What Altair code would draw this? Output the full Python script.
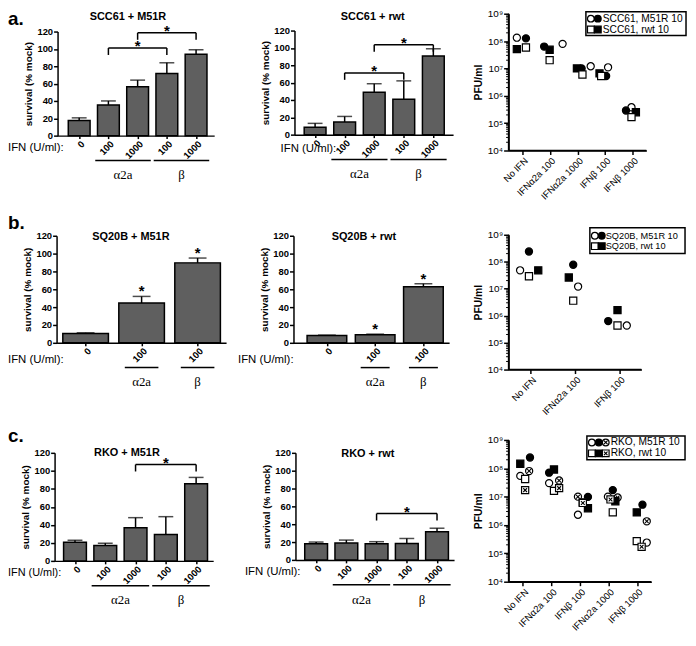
import altair as alt
import pandas as pd

SANS = "Liberation Sans"
SERIF = "Liberation Serif"
BAR_FILL = "#5f5f5f"
OFF = 8          # page margin: chart coordinate = reference pixel - OFF
W, H = 686, 626  # whole drawing area (autosize none)

# ------------------------------------------------------------------ data
bar5_labels = ["0", "100", "1000", "100", "1000"]
bar3_labels = ["0", "100", "100"]
group_names = ["α2a", "β"]
group5_from = [1, 3]
group5_to = [2, 4]
group3_from = [1, 2]
group3_to = [1, 2]

# a. SCC61
a1_values = [17.5, 35.4, 56.4, 71.6, 93.7]
a1_errors = [3.0, 4.6, 7.6, 12.4, 5.3]
a1_br_from, a1_br_to, a1_br_y = [1, 2], [3, 4], [101.0, 118.5]

a2_values = [8.4, 14.5, 48.8, 40.8, 90.7]
a2_errors = [4.6, 6.5, 9.9, 21.2, 8.3]
a2_br_from, a2_br_to, a2_br_y = [1, 2], [3, 4], [71.2, 103.6]

# b. SQ20B
b1_values = [10.4, 44.6, 89.6]
b1_errors = [0.8, 7.4, 5.4]
b1_stars = [1, 2]

b2_values = [8.2, 8.9, 62.8]
b2_errors = [0.4, 0.8, 3.4]
b2_stars = [1, 2]

# c. RKO
c1_values = [20.7, 17.0, 36.9, 29.2, 85.7]
c1_errors = [2.2, 2.6, 11.1, 19.9, 7.0]
c1_br_from, c1_br_to, c1_br_y = [2], [4], [107.0]

c2_values = [18.1, 18.9, 18.1, 18.5, 31.5]
c2_errors = [1.9, 3.3, 2.3, 5.5, 4.0]
c2_br_from, c2_br_to, c2_br_y = [2], [4], [51.9]

# titers (PFU/ml) and horizontal scatter (fraction of category step)
a3_cats = ["No IFN", "IFNα2a 100", "IFNα2a 1000", "IFNβ 100", "IFNβ 1000"]
a3_m51r_open = [1.33e8, 7.9e7, 1.2e7, 1.1e7, 3.8e5]
a3_m51r_filled = [1.26e8, 6.3e7, 1.0e7, 5.3e6, 2.9e5]
a3_rwt_open = [5.8e7, 2.0e7, 6.0e6, 5.3e6, 1.66e5]
a3_rwt_filled = [5.1e7, 4.8e7, 1.0e7, 6.6e6, 2.5e5]
a3_jit_m51r_open = [-0.20, 0.46, 0.48, 0.11, -0.04]
a3_jit_m51r_filled = [0.13, -0.21, 0.15, 0.04, -0.24]
a3_jit_rwt_open = [0.13, -0.01, 0.18, -0.14, -0.04]
a3_jit_rwt_filled = [-0.20, -0.01, -0.02, -0.20, 0.12]

b3_cats = ["No IFN", "IFNα2a 100", "IFNβ 100"]
b3_m51r_open = [4.8e7, 1.2e7, 4.3e5]
b3_m51r_filled = [2.4e8, 7.7e7, 6.3e5]
b3_rwt_open = [2.9e7, 3.6e6, 4.3e5]
b3_rwt_filled = [4.8e7, 2.6e7, 1.6e6]
b3_jit_m51r_open = [-0.24, 0.07, 0.17]
b3_jit_m51r_filled = [-0.04, -0.04, -0.25]
b3_jit_rwt_open = [-0.04, -0.04, -0.04]
b3_jit_rwt_filled = [0.17, -0.14, -0.04]

c3_cats = ["No IFN", "IFNα2a 100", "IFNβ 100", "IFNα2a 1000", "IFNβ 1000"]
c3_m51r_open = [5.4e7, 3.0e7, 2.3e6, 1.0e7, 2.4e5]
c3_m51r_filled = [2.4e8, 7.0e7, 9.8e6, 1.7e7, 5.2e6]
c3_m51r_cross = [8.0e7, 3.7e7, 1.0e7, 9.3e6, 1.35e6]
c3_rwt_open = [4.2e7, 1.6e7, 6.3e6, 2.8e6, 2.7e5]
c3_rwt_filled = [1.45e8, 9.1e7, 3.9e6, 6.9e6, 2.8e6]
c3_rwt_cross = [1.7e7, 2.0e7, 6.0e6, 8.0e6, 1.7e5]
c3_jit_m51r_open = [-0.09, -0.08, -0.07, -0.02, 0.34]
c3_jit_m51r_filled = [0.25, -0.08, 0.28, 0.15, 0.19]
c3_jit_m51r_cross = [0.22, 0.27, -0.07, 0.32, 0.34]
c3_jit_rwt_open = [0.08, 0.09, 0.10, 0.15, -0.01]
c3_jit_rwt_filled = [-0.09, 0.09, 0.28, 0.24, -0.01]
c3_jit_rwt_cross = [0.08, 0.27, 0.10, 0.07, 0.16]

LOG_MAJOR = [10 ** e for e in range(4, 10)]
LOG_MINOR = [k * 10 ** e for e in range(4, 9) for k in range(2, 10)]

# ------------------------------------------------------------------ styles
# (base shape, fill, crossed?)
STYLE = {"m51r_open": ("circle", "white", False), "m51r_filled": ("circle", "black", False),
         "m51r_cross": ("circle", "white", True), "rwt_open": ("square", "white", False),
         "rwt_filled": ("square", "black", False), "rwt_cross": ("square", "white", True)}
PT_SIZE = 52

ONE = pd.DataFrame({"t": [0]})


def c(v):
    return v - OFF


def axis(**kw):
    base = dict(domain=True, domainColor="black", domainWidth=1.5, domainOpacity=1,
                tickColor="black", tickWidth=1.5, labelColor="black", grid=False,
                labelFont=SANS, titleFont=SANS, titleColor="black", labelOverlap=False,
                labelBound=False, labelFlush=False)
    base.update(kw)
    return alt.Axis(**base)


def label_text(x, y, text, size, weight="normal", align="left", font=SANS, baseline="alphabetic"):
    return alt.Chart(ONE).mark_text(font=font, fontSize=size, fontWeight=weight, align=align,
                                    baseline=baseline, color="black").encode(
        x=alt.value(c(x)), y=alt.value(c(y)), text=alt.value(text))


def bar_panel(rect, dom, labels, values, errors, title, title_x, title_base, bar_px, cap_px,
              ifn_x, ifn_dy, ifn_size, grp_from, grp_to, grp_ext,
              br_from=None, br_to=None, br_y=None, stars=None, letter=None):
    x0, y0, x1, y1 = [c(v) for v in rect]
    n = len(values)
    pos = list(range(n))
    df = pd.DataFrame({"pos": pos, "val": values,
                       "top": [v + e for v, e in zip(values, errors)]})
    xs = alt.Scale(domain=dom, range=[x0, x1], nice=False, zero=False)
    ys = alt.Scale(domain=[0, 120], range=[y1, y0], nice=False, zero=True)
    lab = "[" + ",".join(f"'{s}'" for s in labels) + "]"
    xaxis = axis(orient="bottom", offset=y1 - H, values=pos, labelExpr=f"{lab}[datum.value]",
                 labelAngle=-45, labelFontSize=9.5, labelFontWeight="bold", tickSize=3,
                 labelPadding=0, title=None)
    yaxis = axis(orient="left", offset=-x0, values=list(range(0, 121, 20)), labelFontSize=9.5,
                 labelFontWeight="bold", tickSize=4, labelPadding=1,
                 title="survival (% mock)", titleFontSize=10, titleFontWeight="bold",
                 titlePadding=3)

    def X(f):
        return alt.X(f, type="quantitative", scale=xs, axis=xaxis)

    def Y(f):
        return alt.Y(f, type="quantitative", scale=ys, axis=yaxis)

    layers = []
    layers.append(alt.Chart(df).mark_bar(size=bar_px, fill=BAR_FILL, stroke="black",
                                         strokeWidth=1.5).encode(x=X("pos"), y=Y("val")))
    layers.append(alt.Chart(df).mark_rule(color="black", strokeWidth=1.5).encode(
        x=X("pos"), y=Y("val"), y2="top"))
    layers.append(alt.Chart(df).mark_tick(orient="horizontal", size=cap_px, thickness=1.5,
                                          color="black").encode(x=X("pos"), y=Y("top")))
    if br_from:
        drop = 7 * 120 / (y1 - y0)
        bdf = pd.DataFrame({"a": br_from, "b": br_to, "y": br_y})
        bdf["mid"] = (bdf["a"] + bdf["b"]) / 2
        ends = pd.DataFrame({"x": list(bdf["a"]) + list(bdf["b"]),
                             "y": list(bdf["y"]) * 2,
                             "ylo": [v - drop for v in bdf["y"]] * 2})
        layers.append(alt.Chart(bdf).mark_rule(color="black", strokeWidth=1.5).encode(
            x=X("a"), x2="b", y=Y("y")))
        layers.append(alt.Chart(ends).mark_rule(color="black", strokeWidth=1.5).encode(
            x=X("x"), y=Y("y"), y2="ylo"))
        layers.append(alt.Chart(bdf).mark_text(text="*", font=SANS, fontSize=15,
                                               fontWeight="bold", baseline="alphabetic",
                                               dy=3, color="black").encode(
            x=X("mid"), y=Y("y")))
    if stars:
        sdf = df[df["pos"].isin(stars)]
        layers.append(alt.Chart(sdf).mark_text(text="*", font=SANS, fontSize=15,
                                               fontWeight="bold", baseline="alphabetic",
                                               dy=0, color="black").encode(
            x=X("pos"), y=Y("top")))
    gdf = pd.DataFrame({"name": group_names,
                        "ga": [v - grp_ext for v in grp_from],
                        "gb": [v + grp_ext for v in grp_to],
                        "gm": [(a + b) / 2 for a, b in zip(grp_from, grp_to)]})
    layers.append(alt.Chart(gdf).mark_rule(color="black", strokeWidth=1.5).encode(
        x=X("ga"), x2="gb", y=alt.value(y1 + 25)))
    layers.append(alt.Chart(gdf).mark_text(font=SERIF, fontSize=13, baseline="alphabetic",
                                           color="black").encode(
        x=X("gm"), y=alt.value(y1 + 44), text="name:N"))
    layers.append(label_text(ifn_x, rect[3] + ifn_dy, "IFN (U/ml):", ifn_size))
    layers.append(label_text(title_x, title_base, title, 11, "bold", "center"))
    if letter:
        layers.append(label_text(letter[0], letter[1], letter[2], 19, "bold"))
    return alt.layer(*layers)


SUP = "['⁰','¹','²','³','⁴','⁵','⁶','⁷','⁸','⁹']"


def symbol_layers(chart_base, key, size, enc):
    """Point layers for one series style: base symbol plus an X for crossed ones."""
    shape, fill, crossed = STYLE[key]
    out = [chart_base.mark_point(shape=shape, filled=True, fill=fill, stroke="black",
                                 strokeWidth=1.2, size=size, opacity=1).encode(**enc)]
    if crossed:
        for ang in (45, 135):
            out.append(chart_base.mark_point(shape="stroke", angle=ang, filled=False,
                                             stroke="black", strokeWidth=1.1,
                                             size=size * 0.55, opacity=1).encode(**enc))
    return out


def log_panel(rect, cats, series, legend_box, legend_rows, legend_font):
    x0, y0, x1, y1 = [c(v) for v in rect]
    n = len(cats)
    xs = alt.Scale(domain=[-0.5, n - 0.5], range=[x0, x1], nice=False, zero=False)
    ys = alt.Scale(type="log", domain=[1e4, 1e9], range=[y1, y0], nice=False)
    lab = "[" + ",".join(f"'{s}'" for s in cats) + "]"
    xaxis = axis(orient="bottom", offset=y1 - H, values=list(range(n)),
                 labelExpr=f"{lab}[datum.value]", labelAngle=-45, labelFontSize=9.5,
                 tickSize=4, labelPadding=1, title=None)
    yaxis = axis(orient="left", offset=-x0, values=LOG_MAJOR,
                 labelExpr=f"'10' + {SUP}[round(log(datum.value)/LN10)]",
                 tickSize=5, labelFontSize=10, labelPadding=1, title="PFU/ml",
                 titleFontSize=10.5, titleFontWeight="bold", titlePadding=4)

    def X(f):
        return alt.X(f, type="quantitative", scale=xs, axis=xaxis)

    def Y(f):
        return alt.Y(f, type="quantitative", scale=ys, axis=yaxis)

    layers = []
    # axis lines and minor ticks, drawn through the panel's scales
    frame = pd.DataFrame({"xa": [-0.5, -0.5], "xb": [-0.5, n - 0.5],
                          "ya": [1e4, 1e4], "yb": [1e9, 1e4]})
    layers.append(alt.Chart(frame).mark_rule(color="black", strokeWidth=1.5).encode(
        x=X("xa"), x2="xb", y=Y("ya"), y2="yb"))
    tick_units = 2.5 * n / (x1 - x0)
    minor = pd.DataFrame({"y": LOG_MINOR})
    minor["xa"] = -0.5
    minor["xb"] = -0.5 - tick_units
    layers.append(alt.Chart(minor).mark_rule(color="black", strokeWidth=1).encode(
        x=X("xa"), x2="xb", y=Y("y")))
    for key, vals, jits in series:
        sdf = pd.DataFrame({"xp": [i + j for i, j in enumerate(jits)], "val": vals})
        layers += symbol_layers(alt.Chart(sdf), key, PT_SIZE, dict(x=X("xp"), y=Y("val")))
    bx0, by0, bx1, by1 = legend_box
    layers.append(alt.Chart(ONE).mark_rect(fill="white", stroke="black", strokeWidth=1.5).encode(
        x=alt.value(c(bx0)), x2=alt.value(c(bx1)), y=alt.value(c(by0)), y2=alt.value(c(by1))))
    for ry, syms, tx, text in legend_rows:
        for sx, key in syms:
            layers += symbol_layers(alt.Chart(ONE), key, 46,
                                    dict(x=alt.value(c(sx)), y=alt.value(c(ry))))
        layers.append(label_text(tx, ry, text, legend_font, baseline="middle"))
    return alt.layer(*layers)


# ------------------------------------------------------------------ panels
a1 = bar_panel((58, 29, 216, 134), [-0.57, 4.45], bar5_labels, a1_values, a1_errors,
               "SCC61 + M51R", 129, 17, 22, 15, 8, 16, 11.5, group5_from, group5_to, 0.45,
               a1_br_from, a1_br_to, a1_br_y, letter=(8, 22, "a."))
a2 = bar_panel((297, 28, 457, 133), [-0.53, 4.5], bar5_labels, a2_values, a2_errors,
               "SCC61 + rwt", 376, 17, 22, 15, 283, 18, 11.5, group5_from, group5_to, 0.45,
               a2_br_from, a2_br_to, a2_br_y)
a3 = log_panel((513, 11, 652, 149), a3_cats,
               [("m51r_open", a3_m51r_open, a3_jit_m51r_open),
                ("m51r_filled", a3_m51r_filled, a3_jit_m51r_filled),
                ("rwt_filled", a3_rwt_filled, a3_jit_rwt_filled),
                ("rwt_open", a3_rwt_open, a3_jit_rwt_open)],
               (591, 9, 692, 33),
               [(16, [(596, "m51r_open"), (603, "m51r_filled")], 608, "SCC61, M51R 10"),
                (27, [(596, "rwt_open"), (603, "rwt_filled")], 608, "SCC61, rwt 10")],
               10.3)

b1 = bar_panel((57, 235, 228, 343), [-0.43, 2.42], bar3_labels, b1_values, b1_errors,
               "SQ20B + M51R", 132, 239, 46, 18, 8, 20, 11.5, group3_from, group3_to, 0.3,
               stars=b1_stars, letter=(8, 228, "b."))
b2 = bar_panel((296, 235, 453, 343), [-0.59, 2.43], bar3_labels, b2_values, b2_errors,
               "SQ20B + rwt", 367, 239, 40, 18, 240, 20, 11.5, group3_from, group3_to, 0.3,
               stars=b2_stars)
b3 = log_panel((513, 234, 647, 370), b3_cats,
               [("m51r_open", b3_m51r_open, b3_jit_m51r_open),
                ("m51r_filled", b3_m51r_filled, b3_jit_m51r_filled),
                ("rwt_open", b3_rwt_open, b3_jit_rwt_open),
                ("rwt_filled", b3_rwt_filled, b3_jit_rwt_filled)],
               (595, 227, 691, 253),
               [(235, [(600, "m51r_open"), (607, "m51r_filled")], 611, "SQ20B, M51R 10"),
                (245.5, [(600, "rwt_open"), (607, "rwt_filled")], 611, "SQ20B, rwt 10")],
               9.3)

c1 = bar_panel((55, 454, 215, 563), [-0.51, 4.4], bar5_labels, c1_values, c1_errors,
               "RKO + M51R", 128, 457, 23, 15, 8, 15, 11, group5_from, group5_to, 0.45,
               c1_br_from, c1_br_to, c1_br_y, letter=(8, 443, "c."))
c2 = bar_panel((298, 454, 458, 562), [-0.52, 4.4], bar5_labels, c2_values, c2_errors,
               "RKO + rwt", 371, 458, 23, 15, 247, 15, 11.5, group5_from, group5_to, 0.45,
               c2_br_from, c2_br_to, c2_br_y)
c3 = log_panel((513, 441, 657, 584), c3_cats,
               [("m51r_open", c3_m51r_open, c3_jit_m51r_open),
                ("m51r_filled", c3_m51r_filled, c3_jit_m51r_filled),
                ("m51r_cross", c3_m51r_cross, c3_jit_m51r_cross),
                ("rwt_open", c3_rwt_open, c3_jit_rwt_open),
                ("rwt_filled", c3_rwt_filled, c3_jit_rwt_filled),
                ("rwt_cross", c3_rwt_cross, c3_jit_rwt_cross)],
               (592, 437, 691, 461),
               [(443.5, [(597, "m51r_open"), (604, "m51r_filled"), (611, "m51r_cross")],
                 616, "RKO, M51R 10"),
                (454.5, [(597, "rwt_open"), (604, "rwt_filled"), (611, "rwt_cross")],
                 616, "RKO, rwt 10")],
               10.3)

chart = alt.layer(a1, a2, a3, b1, b2, b3, c1, c2, c3).resolve_scale(
    x="independent", y="independent"
).properties(width=W, height=H, padding=0,
             autosize=alt.AutoSizeParams(type="none")).configure_view(stroke=None)

chart.save("out.html", embed_options={"renderer": "svg", "actions": False})
